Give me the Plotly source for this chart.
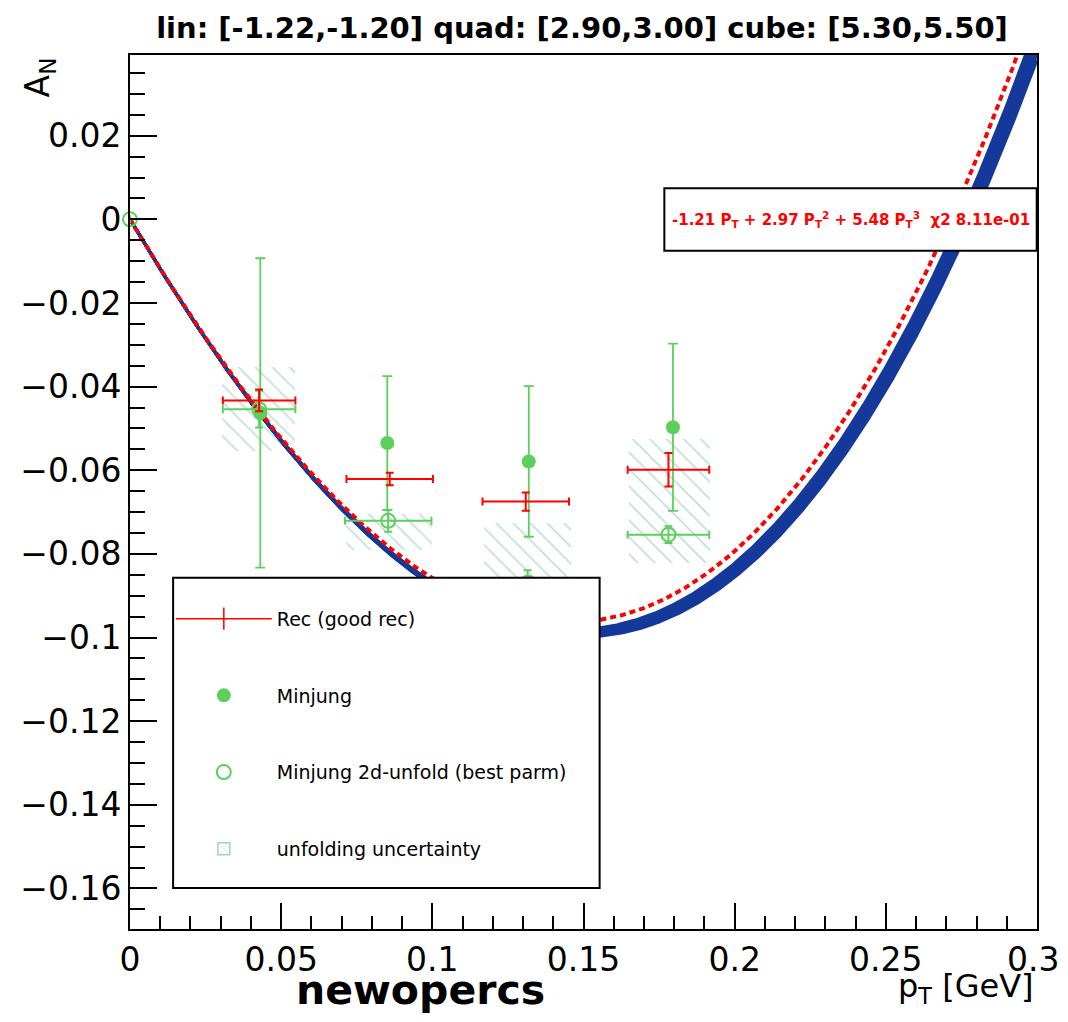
import numpy as np
import plotly.graph_objects as go

# ---------------- data ----------------
title_text = "lin: [-1.22,-1.20] quad: [2.90,3.00] cube: [5.30,5.50]"

# parameter sets of the drawn fit band (A_N = lin*pT + quad*pT^2 + cube*pT^3)
band_lin = [-1.22, -1.215]
band_quad = [2.90, 2.92]
band_cube = [5.30, 5.40, 5.50]

# best fit (red dotted) and its chi2
fit_params = [-1.21, 2.97, 5.48]
fit_chi2 = 0.811

# Rec (good rec)
rec_x = [0.0427, 0.0859, 0.1309, 0.1781]
rec_xerr = [0.0120, 0.0143, 0.0143, 0.0135]
rec_y = [-0.0433, -0.0621, -0.0675, -0.0599]
rec_yerr = [0.0026, 0.0015, 0.0022, 0.0040]

# Minjung
mj_x = [0.0431, 0.0851, 0.1319, 0.1796]
mj_y = [-0.0463, -0.0535, -0.0579, -0.0497]
mj_yerr = [0.0370, 0.0160, 0.0180, 0.0200]

# Minjung 2d-unfold (best parm)
unf_x = [0.0, 0.0427, 0.0854, 0.1315, 0.1781]
unf_xerr = [0.0, 0.0120, 0.0143, 0.0143, 0.0135]
unf_y = [0.0, -0.0454, -0.0721, -0.0869, -0.0754]
unf_yerr = [0.0, 0.0044, 0.0026, 0.0030, 0.0020]

# unfolding uncertainty boxes
box_x = [0.04245, 0.08575, 0.1314, 0.1784]
box_w = [0.0241, 0.0284, 0.0288, 0.0270]
box_lo = [-0.0555, -0.0790, -0.1004, -0.0822]
box_hi = [-0.0353, -0.0704, -0.0726, -0.0525]

x_range = [0.0, 0.3]
y_range = [-0.1697, 0.0393]
x_ticks = [0.0, 0.05, 0.1, 0.15, 0.2, 0.25]
x_ticktext = ["0", "0.05", "0.1", "0.15", "0.2", "0.25"]
x_last_ticktext = "0.3"   # label at x_range[1], placed so it stays inside the page

# ---------------- styles ----------------
FONT = "DejaVu Sans, Liberation Sans, Arial, sans-serif"
RED = "#ff0000"
GREEN = "#5ccf5c"
HATCH = "#8fc2b5"
BLUE = "#14399b"

# page body has an 8px margin: work in page pixels and shift
OFF = 8
W, H = 1068 - 2 * OFF, 1022 - 2 * OFF
PL, PR, PT, PB = 126, 1037, 55, 929.3   # plot frame in page pixels

fig = go.Figure()

# hatched boxes
fig.add_trace(go.Bar(
    x=box_x, y=[h - l for h, l in zip(box_hi, box_lo)], base=box_lo, width=box_w,
    marker=dict(color="rgba(0,0,0,0)", line=dict(width=0),
                pattern=dict(shape="\\", fgcolor=HATCH, size=12, solidity=0.16)),
    showlegend=False, hoverinfo="skip"))

# band of fit curves
pt = np.linspace(x_range[0], x_range[1], 601)
for a in band_lin:
    for b in band_quad:
        for c in band_cube:
            fig.add_trace(go.Scatter(
                x=pt, y=a * pt + b * pt**2 + c * pt**3, mode="lines",
                line=dict(color=BLUE, width=3), showlegend=False, hoverinfo="skip"))

# best fit
fa, fb, fc = fit_params
fig.add_trace(go.Scatter(
    x=pt, y=fa * pt + fb * pt**2 + fc * pt**3, mode="lines",
    line=dict(color=RED, width=4, dash="6px,4px"), showlegend=False, hoverinfo="skip"))

# Minjung 2d-unfold
fig.add_trace(go.Scatter(
    x=unf_x, y=unf_y, mode="markers", cliponaxis=False,
    marker=dict(symbol="circle-open", size=14, color=GREEN, line=dict(width=2, color=GREEN)),
    error_x=dict(type="data", array=unf_xerr, color=GREEN, thickness=2, width=4),
    error_y=dict(type="data", array=unf_yerr, color=GREEN, thickness=2, width=4),
    showlegend=False))

# Minjung
fig.add_trace(go.Scatter(
    x=mj_x, y=mj_y, mode="markers",
    marker=dict(symbol="circle", size=14, color=GREEN),
    error_y=dict(type="data", array=mj_yerr, color=GREEN, thickness=1.8, width=5),
    showlegend=False))

# Rec
fig.add_trace(go.Scatter(
    x=rec_x, y=rec_y, mode="markers", marker=dict(size=0.1, color=RED, opacity=0),
    error_x=dict(type="data", array=rec_xerr, color=RED, thickness=2, width=4),
    error_y=dict(type="data", array=rec_yerr, color=RED, thickness=2, width=4),
    showlegend=False))

# legend-only entries
fig.add_trace(go.Scatter(
    x=[None], y=[None], mode="lines+markers", name="Rec (good rec)", legendgroup="a",
    line=dict(color=RED, width=1.5),
    marker=dict(symbol="line-ns", size=16, line=dict(color=RED, width=1.5))))
fig.add_trace(go.Scatter(
    x=[None], y=[None], mode="markers", name="Minjung", legendgroup="b",
    marker=dict(symbol="circle", size=14, color=GREEN)))
fig.add_trace(go.Scatter(
    x=[None], y=[None], mode="markers", name="Minjung 2d-unfold (best parm)", legendgroup="c",
    marker=dict(symbol="circle-open", size=14, color=GREEN, line=dict(width=2, color=GREEN))))
fig.add_trace(go.Bar(
    x=[None], y=[None], name="unfolding uncertainty", legendgroup="d",
    marker=dict(color="rgba(0,0,0,0)", line=dict(width=1.5, color="#a6d3c6"),
                pattern=dict(shape="\\", fgcolor=HATCH, size=6, solidity=0.15))))

# ---------------- layout ----------------
def px_x(p):
    return (p - PL) / (PR - PL)

def px_y(p):
    return (PB - p) / (PB - PT)

fit_text = (f"{fa:.2f} P<sub>T</sub> + {fb:.2f} P<sub>T</sub><sup>2</sup> + "
            f"{fc:.2f} P<sub>T</sub><sup>3</sup>  \u03c72 {fit_chi2:.2e}")

fig.update_layout(
    width=W, height=H,
    margin=dict(l=PL - OFF, r=W - (PR - OFF), t=PT - OFF, b=H - (PB - OFF)),
    paper_bgcolor="white", plot_bgcolor="white",
    font=dict(family=FONT, color="black"),
    barmode="overlay", bargap=0,
    title=dict(text=f"<b>{title_text}</b>", x=(582 - OFF) / W, xanchor="center",
               y=1 - (28 - OFF) / H, yanchor="middle",
               font=dict(family=FONT, size=29, color="black")),
    xaxis=dict(range=x_range, showgrid=False, zeroline=False,
               showline=True, linecolor="black", linewidth=2, mirror=True,
               ticks="inside", ticklen=26, tickwidth=1.5, tickcolor="black",
               tickmode="array", tickvals=x_ticks, ticktext=x_ticktext,
               minor=dict(tickmode="linear", tick0=0, dtick=0.01, ticks="inside",
                          ticklen=13, tickwidth=1.5, tickcolor="black"),
               tickfont=dict(family=FONT, size=33, color="black")),
    yaxis=dict(range=y_range, showgrid=False, zeroline=False,
               showline=True, linecolor="black", linewidth=2, mirror=True,
               ticks="inside", ticklen=27, tickwidth=1.5, tickcolor="black",
               dtick=0.02, tick0=0,
               minor=dict(dtick=0.005, ticks="inside", ticklen=15, tickwidth=1.5, tickcolor="black"),
               tickfont=dict(family=FONT, size=33, color="black")),
    legend=dict(x=px_x(167), y=px_y(600), xanchor="left", yanchor="top",
                bgcolor="rgba(0,0,0,0)", borderwidth=0,
                font=dict(family=FONT, size=19, color="black"),
                itemwidth=96, tracegroupgap=49, traceorder="grouped"),
    shapes=[
        dict(type="rect", xref="paper", yref="paper", layer="above",
             x0=px_x(169.3), x1=px_x(597.7), y0=px_y(888.3), y1=px_y(578),
             fillcolor="white", line=dict(color="black", width=2)),
        dict(type="rect", xref="paper", yref="paper", layer="above",
             x0=px_x(662.7), x1=px_x(1036.7), y0=px_y(250.7), y1=px_y(188.3),
             fillcolor="white", line=dict(color="black", width=2)),
    ],
    annotations=[
        dict(text=x_last_ticktext, xref="x", yref="paper",
             x=x_range[1], y=px_y(960), xanchor="right", yanchor="middle",
             xshift=(1068 - OFF) - PR, borderpad=0, showarrow=False,
             font=dict(family=FONT, size=33, color="black")),
        dict(text=f"<b>{fit_text}</b>", xref="paper", yref="paper",
             x=(px_x(662.7) + px_x(1036.7)) / 2, y=px_y(219.5),
             xanchor="center", yanchor="middle", showarrow=False,
             font=dict(family=FONT, size=15, color=RED)),
        dict(text="<b>newopercs</b>", xref="paper", yref="paper",
             x=px_x(418), y=px_y(990), xanchor="center", yanchor="middle",
             showarrow=False, font=dict(family=FONT, size=41, color="black")),
        dict(text="p<sub>T</sub> [GeV]", xref="paper", yref="paper",
             x=px_x(1036), y=px_y(988), xanchor="right", yanchor="middle",
             showarrow=False, font=dict(family=FONT, size=32, color="black")),
        dict(text="A<sub>N</sub>", xref="paper", yref="paper", textangle=-90,
             x=px_x(36), y=px_y(77), xanchor="center", yanchor="middle",
             showarrow=False, font=dict(family=FONT, size=33, color="black")),
    ],
)

fig.write_html("out.html")
